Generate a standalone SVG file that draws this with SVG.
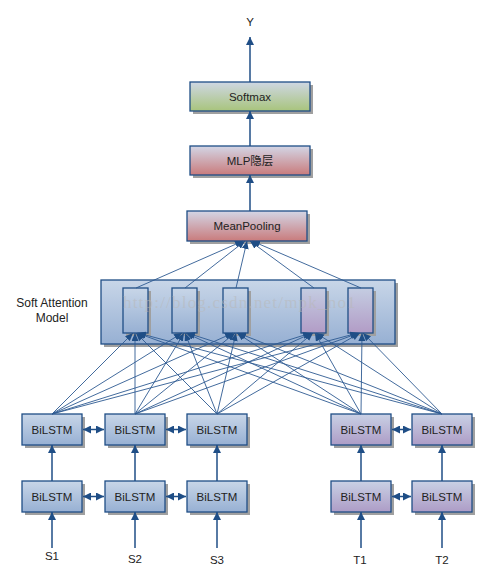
<svg xmlns="http://www.w3.org/2000/svg" width="503" height="585" viewBox="0 0 503 585">
<defs>
<linearGradient id="gBlue" x1="0" y1="0" x2="0" y2="1"><stop offset="0" stop-color="#c8d6e8"/><stop offset="1" stop-color="#97b0d3"/></linearGradient>
<linearGradient id="gPurple" x1="0" y1="0" x2="0" y2="1"><stop offset="0" stop-color="#c9d1e5"/><stop offset="1" stop-color="#ad9cc6"/></linearGradient>
<linearGradient id="gRed" x1="0" y1="0" x2="0" y2="1"><stop offset="0" stop-color="#d3d6e6"/><stop offset="1" stop-color="#c97b7c"/></linearGradient>
<linearGradient id="gGreen" x1="0" y1="0" x2="0" y2="1"><stop offset="0" stop-color="#cfd7e4"/><stop offset="1" stop-color="#a8c47c"/></linearGradient>
<linearGradient id="gCellP" x1="0" y1="0" x2="0" y2="1"><stop offset="0" stop-color="#c4cde2"/><stop offset="1" stop-color="#b29cc6"/></linearGradient>
<marker id="ah" markerWidth="8" markerHeight="8" refX="8" refY="4" orient="auto-start-reverse" markerUnits="userSpaceOnUse"><path d="M0,0 L8,4 L0,8 z" fill="#1f4e86"/></marker>
<marker id="ahs" markerWidth="8" markerHeight="7" refX="8" refY="3.5" orient="auto" markerUnits="userSpaceOnUse"><path d="M0,0 L8,3.5 L0,7 z" fill="#1f4e86"/></marker>
</defs>
<style>
.box{stroke:#1f4e86;stroke-width:1.3}
.sh{fill:#a0a0a0}
.t{font-family:"Liberation Sans","Noto Sans CJK SC",sans-serif;font-size:11.5px;fill:#222;text-anchor:middle}
.main{stroke:#1f4e86;stroke-width:1.5;fill:none;marker-end:url(#ah)}
.dbl{stroke:#1f4e86;stroke-width:1.5;fill:none;marker-end:url(#ah);marker-start:url(#ah)}
.att{stroke:#2e5a92;stroke-width:0.9;fill:none;marker-end:url(#ahs)}
</style>

<g id="label-Y"><text class="t" x="250" y="26">Y</text></g>

<g id="node-softmax">
<rect class="sh" x="193" y="85" width="120" height="29"/>
<rect class="box" x="190" y="82" width="120" height="29" fill="url(#gGreen)"/>
<text class="t" x="250" y="100.5">Softmax</text>
</g>
<g id="node-mlp">
<rect class="sh" x="193" y="149" width="120" height="29"/>
<rect class="box" x="190" y="146" width="120" height="29" fill="url(#gRed)"/>
<text class="t" x="250" y="164.5">MLP隐层</text>
</g>
<g id="node-meanpooling">
<rect class="sh" x="190" y="214" width="120" height="30"/>
<rect class="box" x="187" y="211" width="120" height="30" fill="url(#gRed)"/>
<text class="t" x="247" y="230">MeanPooling</text>
</g>

<g id="node-attention">
<text class="t" x="52" y="307" style="font-size:12px">Soft Attention</text>
<text class="t" x="52" y="322" style="font-size:12px">Model</text>
<rect class="sh" x="104" y="283" width="294" height="64"/>
<rect class="box" x="101" y="280" width="294" height="64" fill="url(#gBlue)"/>
<g id="cell1"><rect class="sh" x="126" y="291" width="25" height="45"/><rect class="box" x="123" y="288" width="25" height="45" fill="url(#gBlue)"/></g>
<g id="cell2"><rect class="sh" x="175" y="291" width="25" height="45"/><rect class="box" x="172" y="288" width="25" height="45" fill="url(#gBlue)"/></g>
<g id="cell3"><rect class="sh" x="226" y="291" width="25" height="45"/><rect class="box" x="223" y="288" width="25" height="45" fill="url(#gBlue)"/></g>
<g id="cell4"><rect class="sh" x="304" y="291" width="25" height="45"/><rect class="box" x="301" y="288" width="25" height="45" fill="url(#gCellP)"/></g>
<g id="cell5"><rect class="sh" x="351" y="291" width="25" height="45"/><rect class="box" x="348" y="288" width="25" height="45" fill="url(#gCellP)"/></g>
</g>

<g id="node-b1t"><rect class="sh" x="25" y="417" width="60" height="31"/><rect class="box" x="22" y="414" width="60" height="31" fill="url(#gBlue)"/><text class="t" x="52" y="433.5">BiLSTM</text></g>
<g id="node-b2t"><rect class="sh" x="108" y="417" width="60" height="31"/><rect class="box" x="105" y="414" width="60" height="31" fill="url(#gBlue)"/><text class="t" x="135" y="433.5">BiLSTM</text></g>
<g id="node-b3t"><rect class="sh" x="190" y="417" width="60" height="31"/><rect class="box" x="187" y="414" width="60" height="31" fill="url(#gBlue)"/><text class="t" x="217" y="433.5">BiLSTM</text></g>
<g id="node-b4t"><rect class="sh" x="334" y="417" width="60" height="31"/><rect class="box" x="331" y="414" width="60" height="31" fill="url(#gPurple)"/><text class="t" x="361" y="433.5">BiLSTM</text></g>
<g id="node-b5t"><rect class="sh" x="415" y="417" width="60" height="31"/><rect class="box" x="412" y="414" width="60" height="31" fill="url(#gPurple)"/><text class="t" x="442" y="433.5">BiLSTM</text></g>

<g id="node-b1b"><rect class="sh" x="25" y="484" width="60" height="31"/><rect class="box" x="22" y="481" width="60" height="31" fill="url(#gBlue)"/><text class="t" x="52" y="500.5">BiLSTM</text></g>
<g id="node-b2b"><rect class="sh" x="108" y="484" width="60" height="31"/><rect class="box" x="105" y="481" width="60" height="31" fill="url(#gBlue)"/><text class="t" x="135" y="500.5">BiLSTM</text></g>
<g id="node-b3b"><rect class="sh" x="190" y="484" width="60" height="31"/><rect class="box" x="187" y="481" width="60" height="31" fill="url(#gBlue)"/><text class="t" x="217" y="500.5">BiLSTM</text></g>
<g id="node-b4b"><rect class="sh" x="334" y="484" width="60" height="31"/><rect class="box" x="331" y="481" width="60" height="31" fill="url(#gPurple)"/><text class="t" x="361" y="500.5">BiLSTM</text></g>
<g id="node-b5b"><rect class="sh" x="415" y="484" width="60" height="31"/><rect class="box" x="412" y="481" width="60" height="31" fill="url(#gPurple)"/><text class="t" x="442" y="500.5">BiLSTM</text></g>

<g id="labels-inputs">
<text class="t" x="52" y="560">S1</text>
<text class="t" x="135" y="563">S2</text>
<text class="t" x="217" y="564">S3</text>
<text class="t" x="360" y="564">T1</text>
<text class="t" x="442" y="564">T2</text>
</g>

<g id="connectors">
<line class="main" x1="250" y1="82" x2="250" y2="37"/>
<line class="main" x1="250" y1="146" x2="250" y2="111"/>
<line class="main" x1="250" y1="211" x2="250" y2="175"/>

<line class="att" x1="136" y1="288" x2="243" y2="241"/>
<line class="att" x1="185" y1="288" x2="245" y2="241"/>
<line class="att" x1="236" y1="288" x2="247" y2="241"/>
<line class="att" x1="314" y1="288" x2="250" y2="241"/>
<line class="att" x1="361" y1="288" x2="252" y2="241"/>

<line class="att" x1="52" y1="414" x2="133" y2="333"/>
<line class="att" x1="52" y1="414" x2="182" y2="333"/>
<line class="att" x1="52" y1="414" x2="233" y2="333"/>
<line class="att" x1="52" y1="414" x2="311" y2="333"/>
<line class="att" x1="52" y1="414" x2="358" y2="333"/>

<line class="att" x1="135" y1="414" x2="135" y2="333"/>
<line class="att" x1="135" y1="414" x2="184" y2="333"/>
<line class="att" x1="135" y1="414" x2="235" y2="333"/>
<line class="att" x1="135" y1="414" x2="312" y2="333"/>
<line class="att" x1="135" y1="414" x2="359" y2="333"/>

<line class="att" x1="217" y1="414" x2="136" y2="333"/>
<line class="att" x1="217" y1="414" x2="185" y2="333"/>
<line class="att" x1="217" y1="414" x2="236" y2="333"/>
<line class="att" x1="217" y1="414" x2="313" y2="333"/>
<line class="att" x1="217" y1="414" x2="360" y2="333"/>

<line class="att" x1="361" y1="414" x2="137" y2="333"/>
<line class="att" x1="361" y1="414" x2="186" y2="333"/>
<line class="att" x1="361" y1="414" x2="237" y2="333"/>
<line class="att" x1="361" y1="414" x2="315" y2="333"/>
<line class="att" x1="361" y1="414" x2="362" y2="333"/>

<line class="att" x1="442" y1="414" x2="138" y2="333"/>
<line class="att" x1="442" y1="414" x2="187" y2="333"/>
<line class="att" x1="442" y1="414" x2="238" y2="333"/>
<line class="att" x1="442" y1="414" x2="316" y2="333"/>
<line class="att" x1="442" y1="414" x2="363" y2="333"/>

<line class="dbl" x1="83" y1="429.5" x2="104" y2="429.5"/>
<line class="dbl" x1="166" y1="429.5" x2="186" y2="429.5"/>
<line class="dbl" x1="392" y1="429.5" x2="411" y2="429.5"/>
<line class="dbl" x1="83" y1="496.5" x2="104" y2="496.5"/>
<line class="dbl" x1="166" y1="496.5" x2="186" y2="496.5"/>
<line class="dbl" x1="392" y1="496.5" x2="411" y2="496.5"/>

<line class="main" x1="52" y1="481" x2="52" y2="445"/>
<line class="main" x1="135" y1="481" x2="135" y2="445"/>
<line class="main" x1="217" y1="481" x2="217" y2="445"/>
<line class="main" x1="361" y1="481" x2="361" y2="445"/>
<line class="main" x1="442" y1="481" x2="442" y2="445"/>

<line class="main" x1="52" y1="548" x2="52" y2="512"/>
<line class="main" x1="135" y1="548" x2="135" y2="512"/>
<line class="main" x1="217" y1="548" x2="217" y2="512"/>
<line class="main" x1="361" y1="548" x2="361" y2="512"/>
<line class="main" x1="442" y1="548" x2="442" y2="512"/>
</g>

<g id="watermark">
<text x="123" y="308" style="font-family:'Liberation Serif',serif;font-size:17px;fill:#b8b8b8;fill-opacity:0.55;letter-spacing:1.2px">http://blog.csdn.net/mpk_no1</text>
</g>
</svg>
